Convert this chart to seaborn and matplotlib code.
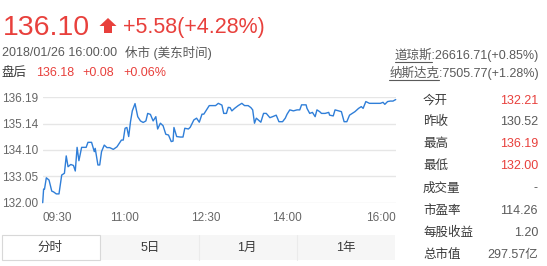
import matplotlib
matplotlib.use("Agg")
import matplotlib.pyplot as plt
from matplotlib.patches import Rectangle, Polygon
from matplotlib.lines import Line2D
import seaborn as sns
import pandas as pd

# ---------------- data ----------------
minutes = [0, 1, 2, 4, 7, 10, 12, 15, 18, 21,
           24, 26, 28, 31, 34, 36, 38, 40, 43, 48,
           50, 54, 57, 58, 61, 63, 65, 68, 71, 74,
           78, 82, 87, 89, 91, 93, 95, 97, 99, 102,
           105, 108, 111, 114, 116, 119, 122, 125, 127, 130,
           133, 136, 139, 142, 144, 145, 148, 152, 155, 157,
           161, 163, 167, 170, 173, 176, 178, 181, 184, 188,
           191, 194, 198, 200, 203, 205, 207, 209, 212, 216,
           220, 223, 227, 230, 232, 234, 236, 241, 244, 247,
           251, 254, 258, 261, 265, 268, 270, 273, 277, 281,
           284, 286, 291, 292, 295, 298, 301, 303, 306, 308,
           312, 316, 317, 321, 323, 327, 330, 333, 336, 339,
           342, 345, 349, 352, 354, 357, 361, 365, 373, 376,
           378, 381, 384, 387, 390]
prices = [132.00, 132.54, 132.54, 132.99, 132.90, 132.46, 132.43, 132.35, 132.35, 133.10,
          133.17, 133.86, 133.43, 133.52, 133.48, 133.26, 134.20, 133.67, 134.20, 134.20,
          134.40, 134.40, 134.03, 134.16, 133.50, 133.50, 134.03, 134.29, 134.19, 134.19,
          134.12, 134.22, 134.49, 134.49, 134.96, 134.99, 134.63, 135.22, 135.65, 135.94,
          135.42, 135.25, 135.19, 135.25, 135.55, 135.51, 135.25, 135.42, 134.93, 135.16,
          135.06, 134.72, 134.69, 134.43, 134.45, 134.99, 134.63, 134.61, 134.61, 134.96,
          134.93, 135.00, 135.29, 135.36, 135.20, 135.52, 135.52, 135.69, 135.86, 135.86,
          135.86, 135.95, 135.88, 135.55, 135.55, 135.79, 135.78, 135.65, 135.75, 135.86,
          135.95, 135.86, 135.86, 135.78, 135.69, 135.16, 135.36, 135.20, 135.55, 135.55,
          135.38, 135.42, 135.48, 135.22, 135.22, 135.36, 135.52, 135.69, 135.65, 135.69,
          135.69, 135.89, 135.89, 135.75, 135.55, 135.59, 135.42, 135.69, 135.62, 135.55,
          135.55, 135.59, 135.48, 135.45, 135.69, 135.65, 135.62, 135.22, 135.22, 135.48,
          135.55, 135.62, 135.75, 135.82, 135.75, 136.02, 135.95, 135.95, 135.95, 135.99,
          135.91, 136.02, 136.04, 136.04, 136.10]

y_ticks = [132.00, 133.05, 134.10, 135.14, 136.19]
y_min, y_max = 132.00, 136.19
x_tick_pos = [0, 90, 180, 270, 390]
x_tick_labels = ["09:30", "11:00", "12:30", "14:00", "16:00"]

last_price = "136.10"
change_text = "+5.58(+4.28%)"
time_text = "2018/01/26 16:00:00"
status_text = "休市 (美东时间)"
after_label = "盘后"
after_values = ["136.18", "+0.08", "+0.06%"]
index_names = ["道琼斯", "纳斯达克"]
index_values = [":26616.71(+0.85%)", ":7505.77(+1.28%)"]
stat_labels = ["今开", "昨收", "最高", "最低", "成交量", "市盈率", "每股收益", "总市值"]
stat_values = ["132.21", "130.52", "136.19", "132.00", "-", "114.26", "1.20", "297.57亿"]
stat_red = [True, False, True, True, False, False, False, False]
tab_labels = ["分时", "5日", "1月", "1年"]

# ---------------- style ----------------
W, H = 547, 266
sns.set_theme(style="white")
plt.rcParams["font.family"] = ["Liberation Sans", "Noto Sans CJK SC", "DejaVu Sans"]

RED = "#e8403c"
GRAY = "#5a5a5a"
DARK = "#3a3a3a"
BLUE = "#2f7ed8"

fig = plt.figure(figsize=(W / 100, H / 100), dpi=100)
fig.patch.set_facecolor("white")


def fx(x):
    return x / W


def fy(y):
    return 1 - y / H


# chart axes
ax_l, ax_r, ax_t, ax_b = 42.7, 395.7, 97.3, 202.7
ax = fig.add_axes([fx(ax_l), fy(ax_b), fx(ax_r - ax_l), (ax_b - ax_t) / H])
df = pd.DataFrame({"minute": minutes, "price": prices})
sns.lineplot(data=df, x="minute", y="price", ax=ax, color=BLUE, linewidth=1.0)
ax.set_xlim(0, 390)
ax.set_ylim(y_min, y_max)
ax.set_yticks(y_ticks)
ax.set_yticklabels([f"{v:.2f}" for v in y_ticks])
ax.set_xticks(x_tick_pos)
ax.set_xticklabels(x_tick_labels)
ax.set_xlabel("")
ax.set_ylabel("")
for s in ax.spines.values():
    s.set_visible(False)
ax.yaxis.grid(True, color="#e6e6e6", linewidth=1.0)
ax.xaxis.grid(False)
ax.tick_params(axis="y", length=0, pad=3.4, labelsize=8.5, labelcolor="#666666")
ax.tick_params(axis="x", length=3, width=0.8, color="#c0d0e0", pad=3.5,
               labelsize=8.5, labelcolor="#666666", direction="out")
xl = ax.get_xticklabels()
xl[0].set_ha("left")
xl[-1].set_ha("right")
for line in ax.lines:
    line.set_clip_on(False)

# ---------------- header ----------------
fig.text(fx(3), fy(35), last_price, color=RED, fontsize=20.5, va="baseline", ha="left")
arrow = Polygon([(fx(99.5), fy(26)), (fx(108), fy(18)), (fx(116.5), fy(26)),
                 (fx(112), fy(26)), (fx(112), fy(33)), (fx(104), fy(33)),
                 (fx(104), fy(26))], closed=True, transform=fig.transFigure,
                facecolor=RED, edgecolor="none")
fig.add_artist(arrow)
fig.text(fx(123), fy(33), change_text, color=RED, fontsize=15.5, va="baseline", ha="left")

fs = 9.0
fig.text(fx(2), fy(53), time_text, color=GRAY, fontsize=fs, va="center", ha="left")
fig.text(fx(125), fy(53), status_text, color=GRAY, fontsize=fs, va="center", ha="left")
fig.text(fx(2), fy(73), after_label, color=DARK, fontsize=fs, va="center", ha="left")
for xpos, val in zip([36, 82, 123], after_values):
    fig.text(fx(xpos), fy(73), val, color=RED, fontsize=fs, va="center", ha="left")

# index quotes (right aligned, names underlined)
fig.canvas.draw()
renderer = fig.canvas.get_renderer()
for yc, name, val in zip([55, 73], index_names, index_values):
    fig.text(fx(539), fy(yc), name + val, color=GRAY, fontsize=fs, va="center", ha="right")
    tv = fig.text(fx(539), fy(yc), val, color=GRAY, fontsize=fs, va="center", ha="right", alpha=0)
    full = fig.text(fx(539), fy(yc), name + val, fontsize=fs, va="center", ha="right", alpha=0)
    bb_v = tv.get_window_extent(renderer)
    bb_f = full.get_window_extent(renderer)
    x0 = bb_f.x0 / fig.bbox.width
    x1 = bb_v.x0 / fig.bbox.width
    fig.add_artist(Line2D([x0, x1], [fy(yc + 7), fy(yc + 7)], transform=fig.transFigure,
                         color=GRAY, linewidth=0.8))

# ---------------- stats panel ----------------
row_y = [100.7, 121.7, 144.3, 166, 188.3, 210.7, 232.7, 255]
for yc, lab, val, red in zip(row_y, stat_labels, stat_values, stat_red):
    fig.text(fx(423), fy(yc), lab, color=DARK, fontsize=fs, va="center", ha="left")
    fig.text(fx(538), fy(yc), val, color=RED if red else GRAY, fontsize=fs,
             va="center", ha="right")

# ---------------- tabs ----------------
tab_top, tab_bot = 235, 259.5
fig.add_artist(Rectangle((fx(100), fy(tab_bot)), fx(395 - 100), (tab_bot - tab_top) / H,
                         transform=fig.transFigure, facecolor="#f6f6f6", edgecolor="none"))
fig.add_artist(Rectangle((fx(1.7), fy(tab_bot)), fx(100 - 1.7), (tab_bot - tab_top) / H,
                         transform=fig.transFigure, facecolor="white", edgecolor="#d8d8d8",
                         linewidth=0.8))
for xs in [199, 297]:
    fig.add_artist(Line2D([fx(xs), fx(xs)], [fy(tab_bot), fy(tab_top)],
                          transform=fig.transFigure, color="#ebebeb", linewidth=0.8))
for xc, lab in zip([50, 150, 247, 346], tab_labels):
    fig.text(fx(xc), fy(248), lab, color=DARK, fontsize=fs, va="center", ha="center")

fig.savefig("out.png", dpi=100, facecolor="white")
